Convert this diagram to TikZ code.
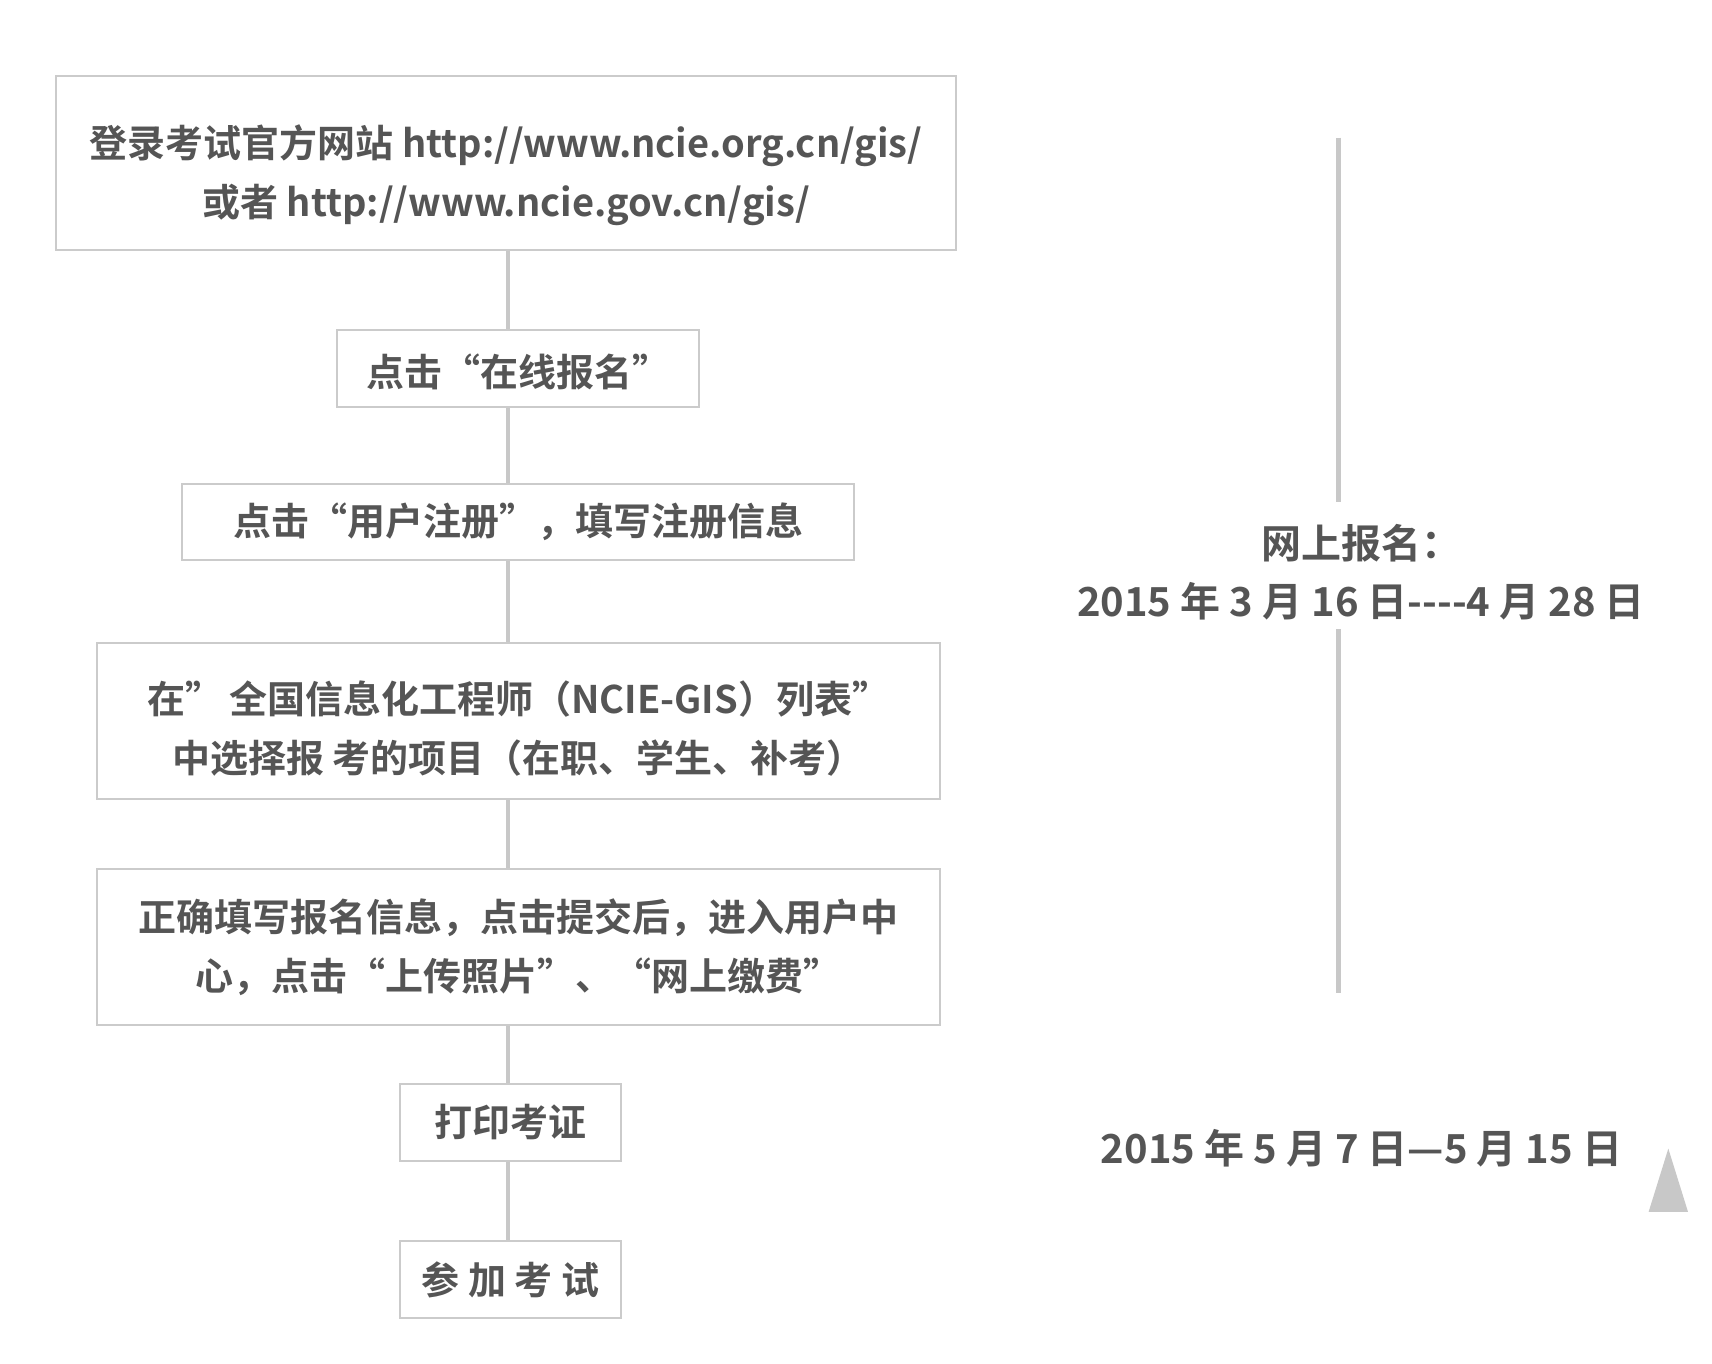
\documentclass[tikz,border=0pt]{standalone}
\usepackage{fontspec}
\setmainfont{Noto Sans CJK SC}[BoldFont={Noto Sans CJK SC Bold}]
\usetikzlibrary{calc}
\definecolor{inkgray}{HTML}{555555}
\definecolor{framegray}{HTML}{CBCBCB}
\definecolor{linegray}{HTML}{C8C8C8}
\newcommand{\hy}{-\kern0pt}
\begin{document}
\begin{tikzpicture}[x=1pt,y=-1pt,
  stepbox/.style={draw=framegray,line width=2pt,fill=white,inner sep=0pt},
  steptext/.style={inner sep=0pt,align=center,text=inkgray,
    font=\bfseries\fontsize{38}{59}\selectfont},
  link/.style={draw=linegray,line width=4pt},
  rail/.style={draw=linegray,line width=5.5pt},
  datetext/.style={text=inkgray,align=center,inner sep=0pt,
    font=\bfseries\fontsize{40}{58}\selectfont}]
\useasboundingbox[fill=white] (0,0) rectangle (1712,1364);

% boxes of the flow
\node[stepbox,minimum width=900.7pt,minimum height=173.6pt] (b1) at (506,163.2) {};
\node[stepbox,minimum width=361.4pt,minimum height=77.5pt] (b2) at (518.1,368.5) {};
\node[stepbox,minimum width=671.5pt,minimum height=76.4pt] (b3) at (518,521.9) {};
\node[stepbox,minimum width=842.8pt,minimum height=156.1pt] (b4) at (518.6,721.2) {};
\node[stepbox,minimum width=842.8pt,minimum height=156.2pt] (b5) at (518.6,947.1) {};
\node[stepbox,minimum width=221.6pt,minimum height=76.4pt] (b6) at (510.4,1122.4) {};
\node[stepbox,minimum width=221.6pt,minimum height=76.4pt] (b7) at (510.4,1279.6) {};

% step texts
\node[steptext,yshift=-12pt] (t1) at (b1)
  {登录考试官方网站 http://www.ncie.org.cn/gis/\\或者 http://www.ncie.gov.cn/gis/};
\node[steptext,yshift=-3pt] (t2) at (b2) {点击“在线报名”};
\node[steptext] (t3) at (b3) {点击“用户注册”，填写注册信息};
\node[steptext,yshift=-7pt] (t4) at (b4)
  {在”\,全国信息化工程师（NCIE-GIS）列表”\\中选择报 考的项目（在职、学生、补考）};
\node[steptext] (t5) at (b5)
  {正确填写报名信息，点击提交后，进入用户中\\心，点击“上传照片”、“网上缴费”};
\node[steptext] (t6) at (b6) {打印考证};
\node[steptext] (t7) at (b7) {参 加 考 试};

% connectors between the steps
\coordinate (axis) at (507.7,0);
\foreach \a/\b in {b1/b2,b2/b3,b3/b4,b4/b5,b5/b6,b6/b7}
  \draw[link] (\a.south -| axis) -- (\b.north -| axis);

% registration period and exam-card period
\node[datetext] (reg) at (1361,572)
  {网上报名：\\2015 年 3 月 16 日\hy\hy\hy\hy 4 月 28 日};
\node[datetext] (card) at (1361.5,1148.6)
  {2015 年 5 月 7 日—5 月 15 日};
\coordinate (railtop) at (1338.6,137.6);
\coordinate (railbot) at (1338.6,992.5);
\draw[rail] (railtop) -- ($(reg.north -| railtop)+(0,-22)$);
\draw[rail] ($(reg.south -| railtop)+(0,9)$) -- (railbot);

\coordinate (tipL) at (1648.6,1211.9);
\coordinate (tipR) at (1688,1211.9);
\coordinate (tipT) at (1668.3,1148.6);
\fill[linegray] (tipL) -- (tipT) -- (tipR) -- cycle;
\end{tikzpicture}
\end{document}
